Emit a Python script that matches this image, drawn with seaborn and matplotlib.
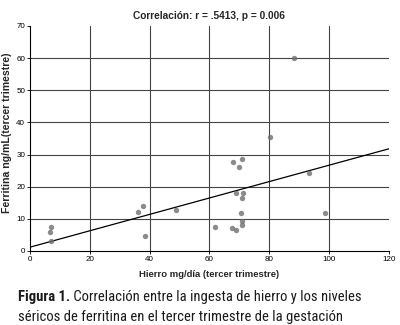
import matplotlib
matplotlib.use("Agg")
import matplotlib.pyplot as plt
import seaborn as sns
import pandas as pd

# values
hierro = [6.9, 6.6, 7.0, 36.0, 37.7, 38.3, 48.8, 61.8, 67.6, 69.0, 67.8, 70.9,
          69.8, 69.0, 71.2, 70.9, 70.4, 70.9, 70.9, 80.1, 93.4, 98.6, 88.3]
ferritina = [7.6, 6.0, 3.2, 12.2, 14.1, 4.6, 12.6, 7.6, 7.1, 6.6, 27.7, 28.7,
             26.2, 17.9, 17.9, 16.6, 11.7, 9.4, 8.0, 35.6, 24.3, 11.8, 60.0]
xticks = [0, 20, 40, 60, 80, 100, 120]
yticks = [0, 10, 20, 30, 40, 50, 60, 70]

df = pd.DataFrame({"hierro": hierro, "ferritina": ferritina})

sns.set_theme(style="white")
plt.rcParams["font.family"] = ["Liberation Sans", "DejaVu Sans"]

fig = plt.figure(figsize=(4, 3.25), dpi=100)
ax = fig.add_axes([0.075, 0.2277, 0.8975, 0.6923])
# limits first so the fitted line spans the whole x range
ax.set_xlim(0, 120)
ax.set_ylim(0, 70)

sns.regplot(data=df, x="hierro", y="ferritina", ci=None, truncate=False, ax=ax,
            scatter_kws=dict(s=15, color="#6e6e6e", linewidths=0, zorder=3),
            line_kws=dict(color="black", lw=0.9, zorder=2))

ax.set_xlim(0, 120)
ax.set_ylim(0, 70)
ax.set_xticks(xticks)
ax.set_yticks(yticks)
ax.tick_params(labelsize=5.8, length=2, width=0.6, pad=1.5, colors="black", left=True, bottom=True)
for xv in xticks[1:-1]:
    ax.axvline(xv, color="#444444", lw=0.8, zorder=1)
for yv in yticks[1:-1]:
    ax.axhline(yv, color="#444444", lw=0.8, zorder=1)
for s in ["top", "right"]:
    ax.spines[s].set_visible(False)
for s in ["left", "bottom"]:
    ax.spines[s].set_color("black")
    ax.spines[s].set_linewidth(0.8)

ax.set_xlabel("Hierro mg/día (tercer trimestre)", fontsize=6.8, fontweight="bold", labelpad=5)
ax.set_ylabel("Ferritina ng/mL(tercer trimestre)", fontsize=7.6, fontweight="bold")
ax.yaxis.set_label_coords(-0.05, 0.527)
ax.set_title("Correlación: r = .5413, p = 0.006", fontsize=7.3, fontweight="bold", pad=5)

# caption below the chart
cap = ["Roboto Condensed", "Liberation Sans Narrow", "Liberation Sans"]
t1 = fig.text(0.045, 0.075, "Figura 1.", fontsize=10.5, fontweight="bold", family=cap,
              color="#1a1a1a", va="baseline")
ax.annotate(" Correlación entre la ingesta de hierro y los niveles", xy=(1, 0), xycoords=t1,
            fontsize=10.5, family=cap, color="#1a1a1a", va="bottom", annotation_clip=False)
fig.text(0.045, 0.012, "séricos de ferritina en el tercer trimestre de la gestación", fontsize=10.5,
         family=cap, color="#1a1a1a", va="baseline")

fig.savefig("out.png", dpi=100)
